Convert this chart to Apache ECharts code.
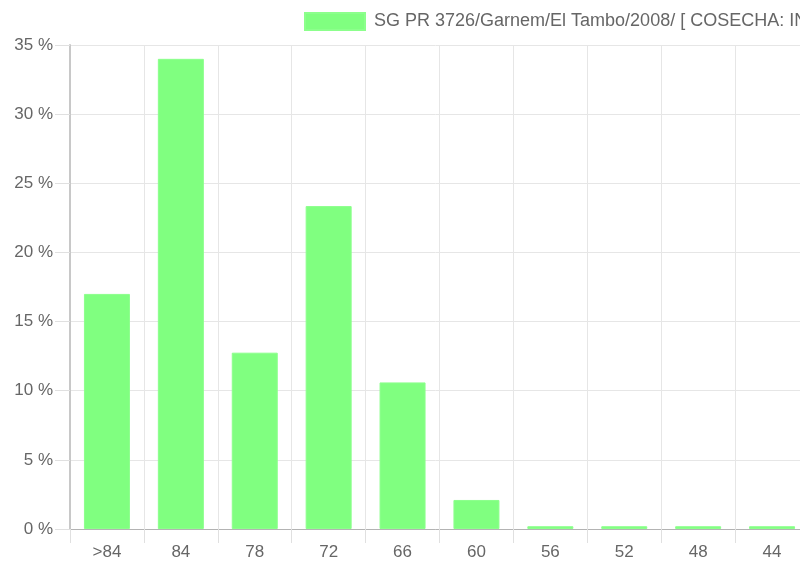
<!DOCTYPE html>
<html>
<head>
<meta charset="utf-8">
<script src="https://cdn.jsdelivr.net/npm/echarts@6/dist/echarts.min.js"></script>
<style>html,body{margin:0;padding:0;background:#fff;}#c{width:800px;height:563px;}</style>
</head>
<body>
<div id="c"></div>
<script>
const categories = ['>84', '84', '78', '72', '66', '60', '56', '52', '48', '44'];
const values = [17.0, 34.0, 12.75, 23.35, 10.6, 2.1, 0.2, 0.2, 0.2, 0.2];
const seriesName = 'SG PR 3726/Garnem/El Tambo/2008/ [ COSECHA: INVIERNO ]';
const yTicks = { min: 0, max: 35, interval: 5 };

const chart = echarts.init(document.getElementById('c'), null, { renderer: 'canvas' });
const font = 'Liberation Sans, Arial, Helvetica, sans-serif';
chart.setOption({
  animation: false,
  backgroundColor: '#fff',
  legend: {
    show: true,
    left: 304,
    top: 12,
    itemWidth: 60,
    itemHeight: 17,
    itemGap: 10,
    icon: 'rect',
    textStyle: { fontFamily: font, fontSize: 18, color: '#666', padding: [0, 0, 0, 4] },
    padding: 0,
    data: [seriesName]
  },
  grid: { left: 70, width: 739, top: 45, bottom: 34, containLabel: false, outerBoundsMode: 'none' },
  xAxis: {
    type: 'category',
    data: categories,
    boundaryGap: true,
    axisLine: { show: true, lineStyle: { color: '#b3b3b3', width: 1 } },
    axisTick: { show: true, length: 14, lineStyle: { color: '#e0e0e0' } },
    axisLabel: { fontFamily: font, fontSize: 17, color: '#666', margin: 15 },
    splitLine: { show: true, lineStyle: { color: '#e6e6e6', width: 1 } }
  },
  yAxis: {
    type: 'value',
    min: yTicks.min, max: yTicks.max, interval: yTicks.interval,
    axisLine: { show: true, lineStyle: { color: '#c8c8c8', width: 2 } },
    axisTick: { show: true, length: 15, lineStyle: { color: '#e0e0e0' } },
    axisLabel: { fontFamily: font, fontSize: 17, color: '#666', margin: 17, formatter: v => v + ' %' },
    splitLine: { show: true, lineStyle: { color: '#e6e6e6', width: 1 } }
  },
  series: [{
    name: seriesName,
    type: 'bar',
    data: values,
    barWidth: 46,
    itemStyle: { color: '#80ff80', borderColor: '#8cff8c', borderWidth: 1 }
  }]
});
</script>
</body>
</html>
